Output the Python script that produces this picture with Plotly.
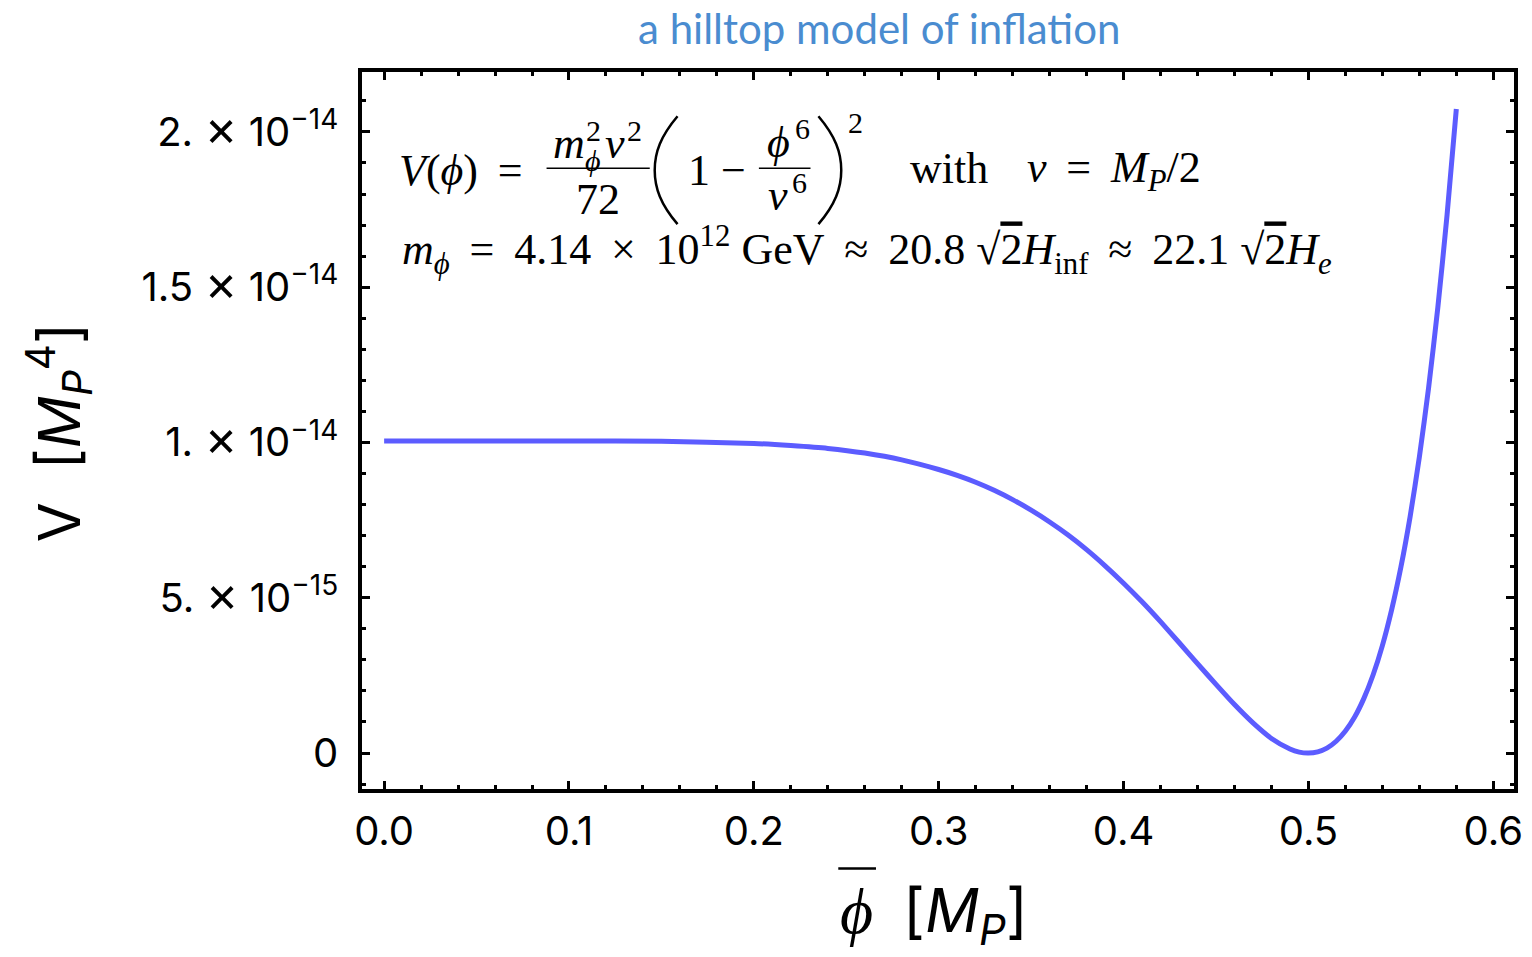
import plotly.graph_objects as go

# ---- data ----
phi = [0.0, 0.05, 0.10, 0.15, 0.20, 0.22, 0.24, 0.26, 0.28, 0.30, 0.31, 0.32, 0.33,
       0.34, 0.35, 0.36, 0.37, 0.38, 0.39, 0.40, 0.41, 0.42, 0.43, 0.44, 0.45, 0.46,
       0.47, 0.48, 0.49, 0.495, 0.50, 0.505, 0.51, 0.515, 0.52, 0.525, 0.53, 0.535,
       0.54, 0.545, 0.55, 0.555, 0.56, 0.565, 0.57, 0.575, 0.58]
V_e14 = [1.005, 1.005, 1.005, 1.004, 0.997, 0.990, 0.981, 0.966, 0.944, 0.913, 0.894,
         0.872, 0.846, 0.816, 0.782, 0.744, 0.702, 0.655, 0.603, 0.547, 0.487, 0.423,
         0.356, 0.288, 0.221, 0.156, 0.097, 0.047, 0.013, 0.003, 0.000, 0.004, 0.016,
         0.038, 0.071, 0.116, 0.176, 0.252, 0.346, 0.461, 0.598, 0.761, 0.953, 1.176,
         1.435, 1.733, 2.074]
V = [v * 1e-14 for v in V_e14]

x_tickvals = [0.0, 0.1, 0.2, 0.3, 0.4, 0.5, 0.6]
y_tickvals = [0.0, 5e-15, 1e-14, 1.5e-14, 2e-14]
y_mantissa = ["0", "5.", "1.", "1.5", "2."]
y_exponent = [None, "−15", "−14", "−14", "−14"]

TS = "\u2009"
y_ticktext = []
for m, e in zip(y_mantissa, y_exponent):
    if e is None:
        y_ticktext.append(m)
    else:
        y_ticktext.append(f"{m} <span style='font-size:50px'>×</span> 10"
                          f"<sup>{e}</sup>")

W, H = 1532, 957
L, R, T, B = 362, 1523, 71.7, 789.5
SERIF = "Liberation Serif"
SANS = "Inter"
PHI = "ϕ"


def px(x):
    return (x - L) / (R - L)


def py(y):
    return (B - y) / (B - T)


fig = go.Figure()
fig.add_trace(go.Scatter(x=phi, y=V, mode="lines",
                         line=dict(color="#5C5CFF", width=5, shape="spline", smoothing=0.6),
                         hoverinfo="skip", showlegend=False))

axis_common = dict(showline=True, linewidth=3.5, linecolor="black", mirror="allticks",
                   ticks="inside", ticklen=8, tickwidth=2.5, tickcolor="black",
                   showgrid=False, zeroline=False,
                   tickfont=dict(family=SANS, size=40, color="black"))

fig.update_xaxes(range=[-0.01197, 0.6112], tickvals=x_tickvals, tickformat=".1f",
                 minor=dict(dtick=0.02, ticks="inside", ticklen=4, tickwidth=2.5,
                            tickcolor="black", showgrid=False),
                 ticklabelstandoff=4, **axis_common)
fig.update_yaxes(range=[-1.158e-15, 2.193e-14], tickvals=y_tickvals, ticktext=y_ticktext,
                 minor=dict(dtick=1e-15, tick0=0, ticks="inside", ticklen=4, tickwidth=2.5,
                            tickcolor="black", showgrid=False),
                 ticklabelstandoff=12, **axis_common)

ann = []


def txt(x, y, text, size=44, xanchor="center", family=SERIF, color="black", angle=0):
    ann.append(dict(x=px(x), y=py(y), xref="paper", yref="paper", text=text,
                    showarrow=False, xanchor=xanchor, yanchor="middle", textangle=angle,
                    font=dict(family=family, size=size, color=color)))


# title
txt(883, 28, "a hilltop model of inflation", size=42, family="Lato", color="#4A8CD0")

# axis titles
txt(860, 912, f"<i>{PHI}</i>", size=64)
txt(905, 915, "[<i>M</i><sub><i>P</i></sub>]", size=60, family=SANS, xanchor="left")
txt(57, 432, "V  [<i>M</i><sub><i>P</i></sub><sup>4</sup>]", size=58, family=SANS, angle=-90)

# formula line 1
txt(397, 170, f"<i>V</i>(<i>{PHI}</i>){TS} ={TS}", xanchor="left")
txt(552, 143, "<i>m</i>", xanchor="left")
txt(586, 130, "2", size=30, xanchor="left")
txt(585, 160, f"<i>{PHI}</i>", size=30, xanchor="left")
txt(605, 143, "<i>v</i>", xanchor="left")
txt(627, 130, "2", size=30, xanchor="left")
txt(600, 199, "72")
txt(689, 170, "1 −", xanchor="left")
txt(782, 142, f"<i>{PHI}</i>")
txt(796, 128, "6", size=30, xanchor="left")
txt(781, 195, "<i>v</i>")
txt(793, 182, "6", size=30, xanchor="left")
txt(850, 122, "2", size=30, xanchor="left")
txt(912, 168, "with", xanchor="left")
txt(1030, 170, f"<i>v</i>{TS} = {TS}<i>M</i><sub><i>P</i></sub>/2", xanchor="left")

# formula line 2
OV = "<span style='text-decoration:overline'>2</span>"
txt(400, 250, f"<i>m</i><sub><i>{PHI}</i></sub>{TS} = {TS}4.14{TS} × {TS}10<sup>12</sup> GeV{TS} ≈ {TS}20.8 √{OV}<i>H</i><sub>inf</sub>"
    f"{TS} ≈ {TS}22.1 √{OV}<i>H</i><sub><i>e</i></sub>",
    xanchor="left")

shapes = []
# fraction bars
for x0, x1 in [(548, 652), (762, 814)]:
    shapes.append(dict(type="line", xref="paper", yref="paper",
                       x0=px(x0), x1=px(x1), y0=py(168), y1=py(168),
                       line=dict(color="black", width=1.6)))
# bar over phi in x-axis title
shapes.append(dict(type="line", xref="paper", yref="paper",
                   x0=px(842), x1=px(880), y0=py(869), y1=py(869),
                   line=dict(color="black", width=2.5)))
# big parentheses
shapes.append(dict(type="path", xref="paper", yref="paper",
                   path=(f"M {px(680)},{py(116)} C {px(663)},{py(136)} {px(657)},{py(152)} {px(657)},{py(170)} "
                         f"C {px(657)},{py(188)} {px(663)},{py(204)} {px(680)},{py(224)}"),
                   line=dict(color="black", width=2.5)))
shapes.append(dict(type="path", xref="paper", yref="paper",
                   path=(f"M {px(822)},{py(116)} C {px(839)},{py(136)} {px(845)},{py(152)} {px(845)},{py(170)} "
                         f"C {px(845)},{py(188)} {px(839)},{py(204)} {px(822)},{py(224)}"),
                   line=dict(color="black", width=2.5)))

fig.update_layout(width=W, height=H, margin=dict(l=L, r=W - R, t=T, b=H - B),
                  plot_bgcolor="white", paper_bgcolor="white",
                  annotations=ann, shapes=shapes, showlegend=False)

fig.write_html("out.html")
